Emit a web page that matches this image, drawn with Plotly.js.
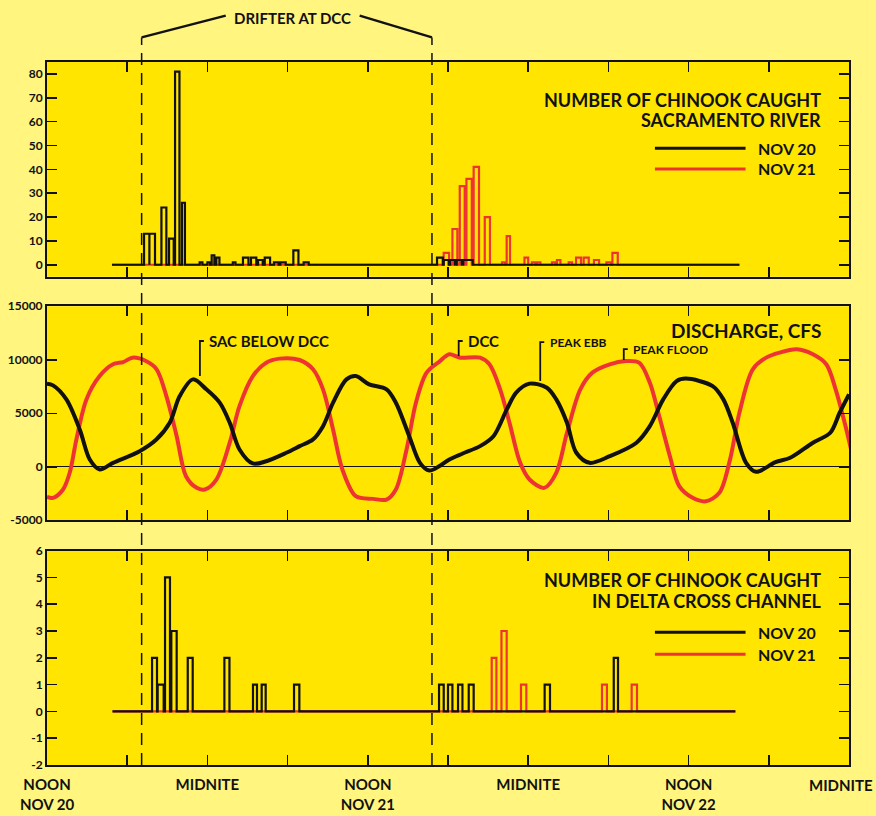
<!DOCTYPE html>
<html>
<head>
<meta charset="utf-8">
<script src="https://cdn.plot.ly/plotly-3.0.1.min.js"></script>
<style>
  html, body { margin: 0; padding: 0; background: #FFF57F; }
  #chart { width: 876px; height: 816px; }
</style>
</head>
<body>
<div id="chart"></div>
<script>
// ---- time axis (hours after noon, Nov 20) ----
const tickHours = [0, 6, 12, 18, 24, 30, 36, 42, 48, 54, 60];
const tickLabels = ['NOON<br>NOV 20', '', 'MIDNITE', '', 'NOON<br>NOV 21', '', 'MIDNITE', '', 'NOON<br>NOV 22', '', 'MIDNITE'];
const drifterHours = [7.08, 28.8];

// ---- y tick labels ----
const sacTicks = [0, 10, 20, 30, 40, 50, 60, 70, 80];
const sacTickText = ['0', '10', '20', '30', '40', '50', '60', '70', '80'];
const cfsTicks = [-5000, 0, 5000, 10000, 15000];
const cfsTickText = ['-5000', '0', '5000', '10000', '15000'];
const dccTicks = [-2, -1, 0, 1, 2, 3, 4, 5, 6];
const dccTickText = ['-2', '-1', '0', '1', '2', '3', '4', '5', '6'];

// ---- Sacramento River catch ----
const sacSampling = [4.86, 51.8];
const sacNov20Start = [7.26, 7.66, 8.56, 9.13, 9.58, 10.10, 11.42, 12.00, 12.32, 12.67, 13.90, 14.66, 15.26, 15.79, 16.29, 16.98, 17.46, 18.43, 19.20, 29.18, 29.68, 30.16, 30.65, 31.14];
const sacNov20End   = [7.66, 8.08, 8.93, 9.48, 9.91, 10.32, 11.63, 12.20, 12.52, 12.90, 14.10, 15.07, 15.66, 16.14, 16.69, 17.33, 17.86, 18.81, 19.58, 29.61, 30.05, 30.50, 31.03, 31.85];
const sacNov20Count = [13, 13, 24, 11, 81, 26, 1, 1, 4, 3, 1, 3, 3, 2, 3, 1, 1, 6, 1, 3, 2, 2, 2, 2];
const sacNov21Start = [29.68, 30.33, 30.88, 31.38, 31.92, 32.75, 34.04, 34.39, 35.72, 36.28, 36.66, 37.78, 38.15, 39.03, 39.58, 40.15, 40.92, 41.85, 42.30];
const sacNov21End   = [30.08, 30.70, 31.25, 31.78, 32.32, 33.14, 34.26, 34.64, 36.00, 36.54, 36.91, 38.03, 38.41, 39.28, 39.95, 40.53, 41.30, 42.22, 42.70];
const sacNov21Count = [5, 15, 33, 36, 41, 20, 1, 12, 3, 1, 1, 1, 2, 1, 3, 3, 2, 1, 5];

// ---- Discharge, cfs ----
const sacBelowHours = [0, 0.45, 1.45, 2.45, 3.2, 3.94, 4.94, 6.93, 8.18, 9.18, 9.93, 10.92, 11.92, 12.92, 13.67, 14.4, 15.4, 16.4, 17.9, 18.9, 19.9, 20.65, 21.4, 22.4, 23.1, 24.1, 25.4, 26.1, 27.1, 27.9, 28.6, 29.4, 30.1, 31.1, 32.4, 33.4, 34.4, 35.1, 36.1, 37.4, 38.1, 38.9, 39.6, 40.6, 42.1, 44.1, 45.1, 46.1, 47.1, 47.8, 49.8, 50.6, 51.3, 52.3, 53.05, 54.5, 55.6, 57.3, 58.6, 59.3, 60];
const sacBelowCfs   = [7770, 7610, 6300, 3490, 680, -250, 370, 1460, 2550, 4120, 6610, 8170, 7240, 5990, 4120, 1620, 310, 520, 1310, 1930, 2560, 3800, 5990, 8170, 8480, 7700, 7240, 5990, 2860, 370, -350, 100, 680, 1240, 1930, 2860, 5360, 6930, 7770, 7390, 6300, 4120, 1310, 370, 990, 2250, 3800, 6300, 8010, 8240, 7540, 6300, 4120, 370, -470, 430, 840, 2250, 3180, 5050, 6770];
const dccHours = [0, 0.45, 1.2, 1.7, 2.2, 2.95, 3.94, 4.94, 5.7, 6.4, 7.4, 8.2, 8.93, 9.7, 10.4, 11.2, 11.8, 12.67, 13.67, 14.4, 15.4, 16.4, 17.4, 18.9, 19.9, 20.65, 21.4, 22.1, 23.1, 24.4, 25.4, 26.1, 26.9, 27.6, 28.4, 29.4, 30.1, 30.9, 32.4, 33.1, 33.9, 34.6, 35.4, 36.1, 37.2, 38.1, 38.9, 39.9, 40.8, 42.1, 43.3, 44.3, 45.1, 45.8, 46.6, 47.3, 48.3, 49.3, 50.3, 51.1, 51.8, 52.8, 53.8, 54.8, 56.1, 57.3, 58.3, 59.0, 59.8, 60.25];
const dccCfs   = [-2810, -2900, -2120, -560, 2560, 6300, 8480, 9580, 9790, 10200, 9880, 9110, 6610, 2860, -880, -1970, -2120, -1190, 2250, 5670, 8480, 9730, 10110, 9980, 9110, 7240, 3490, -250, -2750, -3000, -3060, -2120, 1620, 5990, 8800, 9880, 10510, 10200, 10200, 9580, 7240, 4120, 370, -1190, -1970, -560, 3180, 7240, 8800, 9580, 9880, 9730, 7860, 4740, 990, -1810, -2900, -3220, -2430, 680, 5050, 9110, 10200, 10670, 10980, 10510, 9580, 7240, 3490, 1090];

// ---- Delta Cross Channel catch ----
const dccSampling = [4.9, 51.5];
const dccNov20Start = [7.86, 8.28, 8.83, 9.30, 10.53, 13.27, 15.41, 16.06, 18.48, 29.33, 30.00, 30.75, 31.55, 37.23, 42.40];
const dccNov20End   = [8.23, 8.73, 9.20, 9.70, 10.90, 13.65, 15.71, 16.36, 18.88, 29.68, 30.33, 31.08, 31.92, 37.63, 42.72];
const dccNov20Count = [2, 1, 5, 3, 2, 2, 1, 1, 1, 1, 1, 1, 1, 1, 2];
const dccNov21Start = [33.27, 34.00, 35.46, 41.52, 43.74];
const dccNov21End   = [33.62, 34.39, 35.86, 41.89, 44.14];
const dccNov21Count = [2, 3, 1, 1, 1];

// ---- annotation labels for discharge panel ----
const labelText  = ['SAC BELOW DCC', 'DCC', 'PEAK EBB', 'PEAK FLOOD'];
const labelFrom  = [[11.44, 8480], [30.8, 10350], [36.9, 8010], [43.15, 9980]];
const labelTop   = [11756, 11756, 11660, 11000];
const labelSize  = [15, 15, 12, 12];

const BLACK = '#111111';
const RED = '#EE3333';
const FONT = 'Lato, "DejaVu Sans", sans-serif';

function outline(start, end, count, span) {
  const x = [span[0]], y = [0];
  for (let i = 0; i < start.length; i++) {
    x.push(start[i], start[i], end[i], end[i]);
    y.push(0, count[i], count[i], 0);
  }
  x.push(span[1]); y.push(0);
  return {x, y};
}

const s20 = outline(sacNov20Start, sacNov20End, sacNov20Count, sacSampling);
const s21 = outline(sacNov21Start, sacNov21End, sacNov21Count, sacSampling);
const d20 = outline(dccNov20Start, dccNov20End, dccNov20Count, dccSampling);
const d21 = outline(dccNov21Start, dccNov21End, dccNov21Count, dccSampling);

const traces = [
  {x: s21.x, y: s21.y, xaxis: 'x', yaxis: 'y', mode: 'lines', line: {color: RED, width: 2.2}},
  {x: s20.x, y: s20.y, xaxis: 'x', yaxis: 'y', mode: 'lines', line: {color: BLACK, width: 2.2}},
  {x: dccHours, y: dccCfs, xaxis: 'x2', yaxis: 'y2', mode: 'lines', line: {color: RED, width: 4, shape: 'spline', smoothing: 0.9}},
  {x: sacBelowHours, y: sacBelowCfs, xaxis: 'x2', yaxis: 'y2', mode: 'lines', line: {color: BLACK, width: 4, shape: 'spline', smoothing: 0.9}},
  {x: d21.x, y: d21.y, xaxis: 'x3', yaxis: 'y3', mode: 'lines', line: {color: RED, width: 2.2}},
  {x: d20.x, y: d20.y, xaxis: 'x3', yaxis: 'y3', mode: 'lines', line: {color: BLACK, width: 2.2}}
];

// the last tick label sits at the page edge: draw it right-aligned to the edge
const lastIdx = tickLabels.length - 1;
const axisTickText = tickLabels.map((t, i) => (i === lastIdx ? '' : t));

function xAxis(anchor, showLabels) {
  return {
    anchor: anchor, domain: [0, 1], range: [0, 60], matches: anchor === 'y' ? undefined : 'x',
    tickmode: 'array', tickvals: tickHours, ticktext: axisTickText, showticklabels: showLabels,
    ticks: 'inside', ticklen: 10, tickwidth: 1.5, tickcolor: BLACK,
    ticklabelstandoff: 5, ticklabeloverflow: 'allow',
    showline: true, linecolor: BLACK, linewidth: 2, mirror: 'ticks',
    showgrid: false, zeroline: false, fixedrange: true,
    tickfont: {family: FONT, size: 15, color: BLACK, weight: 'bold'}
  };
}
function yAxis(anchor, domain, range, vals, text, zero) {
  return {
    anchor: anchor, domain: domain, range: range,
    tickmode: 'array', tickvals: vals, ticktext: text,
    ticks: 'inside', ticklen: 10, tickwidth: 1.5, tickcolor: BLACK,
    showline: true, linecolor: BLACK, linewidth: 2, mirror: 'ticks',
    showgrid: false, zeroline: zero, zerolinecolor: BLACK, zerolinewidth: 1.2,
    tickfont: {family: FONT, size: 12, color: BLACK, weight: 'bold'}
  };
}

const shapes = [];
const annotations = [];

annotations.push({text: '<b>' + tickLabels[lastIdx] + '</b>', xref: 'paper', yref: 'paper', x: 1, xshift: 26,
  y: 0, yshift: -20, showarrow: false, xanchor: 'right', yanchor: 'middle',
  font: {family: FONT, size: 15, color: BLACK}});

// drifter period markers
drifterHours.forEach(h => {
  shapes.push({type: 'line', xref: 'x', yref: 'paper', x0: h, x1: h, y0: 0, y1: 1.035,
    line: {color: BLACK, width: 1.5, dash: '12px,8px'}});
});
shapes.push({type: 'line', xref: 'x', yref: 'paper', x0: drifterHours[0], x1: 13.37, y0: 1.035, y1: 1.066, line: {color: BLACK, width: 2.5}});
shapes.push({type: 'line', xref: 'x', yref: 'paper', x0: 23.39, x1: drifterHours[1], y0: 1.066, y1: 1.035, line: {color: BLACK, width: 2.5}});
annotations.push({text: '<b>DRIFTER AT DCC</b>', xref: 'x', yref: 'paper', x: 18.4, y: 1.0626,
  showarrow: false, xanchor: 'center', yanchor: 'middle', font: {family: FONT, size: 15, color: BLACK}});

// panel titles
function title(text, y, size) {
  annotations.push({text: '<b>' + text + '</b>', xref: 'paper', yref: 'paper', x: 0.968, y: y,
    showarrow: false, xanchor: 'right', yanchor: 'middle', font: {family: FONT, size: size, color: BLACK}});
}
title('NUMBER OF CHINOOK CAUGHT', 0.9459, 18);
title('SACRAMENTO RIVER', 0.9175, 18);
title('DISCHARGE, CFS', 0.6180, 19);
title('NUMBER OF CHINOOK CAUGHT', 0.2632, 18);
title('IN DELTA CROSS CHANNEL', 0.2337, 18);

// legends
function legendRow(y, color, text) {
  shapes.push({type: 'line', xref: 'paper', yref: 'paper', x0: 0.758, x1: 0.871, y0: y, y1: y, line: {color: color, width: 3}});
  annotations.push({text: '<b>' + text + '</b>', xref: 'paper', yref: 'paper', x: 0.884, y: y,
    showarrow: false, xanchor: 'left', yanchor: 'middle', font: {family: FONT, size: 16, color: BLACK}});
}
legendRow(0.8773, BLACK, 'NOV 20');
legendRow(0.8478, RED, 'NOV 21');
legendRow(0.1888, BLACK, 'NOV 20');
legendRow(0.1575, RED, 'NOV 21');

// discharge labels with leaders
labelText.forEach((t, i) => {
  const x0 = labelFrom[i][0], y0 = labelFrom[i][1], yt = labelTop[i];
  shapes.push({type: 'path', xref: 'x2', yref: 'y2',
    path: `M ${x0} ${y0} L ${x0} ${yt} L ${x0 + 0.3} ${yt}`,
    line: {color: BLACK, width: 1.8}});
  annotations.push({text: '<b>' + t + '</b>', xref: 'x2', yref: 'y2', x: x0 + 0.55, y: yt,
    showarrow: false, xanchor: 'left', yanchor: 'middle', font: {family: FONT, size: labelSize[i], color: BLACK}});
});

const layout = {
  width: 876, height: 816,
  margin: {l: 47, r: 27, t: 62, b: 51},
  paper_bgcolor: '#FFF57F', plot_bgcolor: '#FFE500',
  showlegend: false,
  font: {family: FONT, color: BLACK},
  xaxis: xAxis('y', false),
  xaxis2: xAxis('y2', false),
  xaxis3: xAxis('y3', true),
  yaxis: yAxis('x', [0.6946, 1], [-5, 85], sacTicks, sacTickText, false),
  yaxis2: yAxis('x2', [0.3481, 0.6525], [-5000, 15000], cfsTicks, cfsTickText, true),
  yaxis3: yAxis('x3', [0, 0.305], [-2, 6], dccTicks, dccTickText, false),
  shapes: shapes,
  annotations: annotations
};

Plotly.newPlot('chart', traces, layout, {displayModeBar: false, staticPlot: true});
</script>
</body>
</html>
